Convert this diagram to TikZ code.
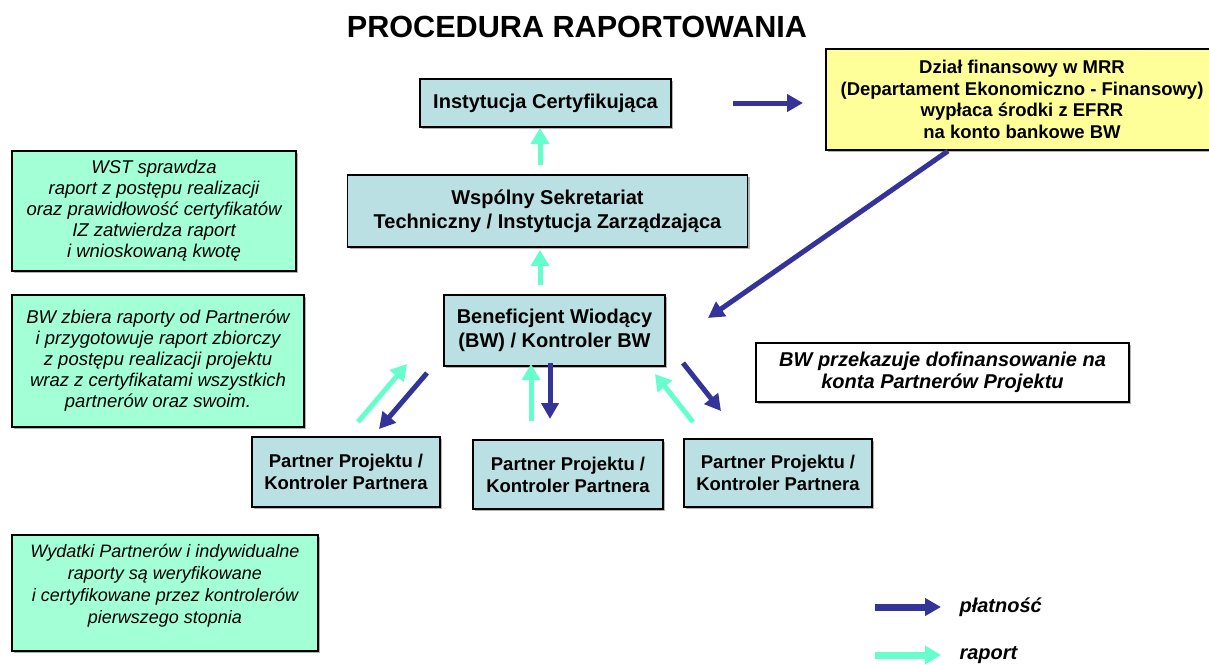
\documentclass[tikz,border=0pt]{standalone}
\usepackage{fontspec}
\setmainfont{Liberation Sans}
\usetikzlibrary{arrows.meta,shadows}
\definecolor{payblue}{HTML}{333399}
\definecolor{repgreen}{HTML}{66FFCC}
\definecolor{boxblue}{HTML}{BBE0E3}
\definecolor{notegreen}{HTML}{A3FFD6}
\definecolor{noteyellow}{HTML}{FFFF99}
\begin{document}
\begin{tikzpicture}[x=1pt,y=-1pt,
  shadowed/.style={drop shadow={shadow xshift=2pt,shadow yshift=-2pt,fill=black!50,opacity=0.6}},
  box/.style={shadowed,draw=black,line width=1.6pt,fill=boxblue,align=center,inner sep=0pt,
    font=\fontsize{20}{24}\selectfont\bfseries},
  pbox/.style={box,font=\fontsize{18.5}{22}\selectfont\bfseries},
  note/.style={shadowed,draw=black,line width=1.6pt,fill=notegreen,align=center,inner sep=0pt,
    font=\fontsize{18.5}{21}\selectfont\itshape},
  ybox/.style={shadowed,draw=black,line width=1.6pt,fill=noteyellow,align=center,inner sep=0pt,
    font=\fontsize{18.5}{21.7}\selectfont\bfseries},
  wbox/.style={shadowed,draw=black,line width=1.6pt,fill=white,align=center,inner sep=0pt,
    font=\fontsize{20}{22.5}\selectfont\bfseries\itshape},
  pay/.style={draw=payblue,line width=5pt,-{Triangle[length=16pt,width=17pt]}},
  rep/.style={draw=repgreen,line width=5pt,-{Triangle[length=16pt,width=18pt]}},
  legtxt/.style={anchor=west,font=\fontsize{20}{22}\selectfont\bfseries\itshape}
]
\path[use as bounding box] (0,0) rectangle (1209,664);

% title
\node[font=\fontsize{30.6}{34}\selectfont\bfseries] (title) at (577,27) {PROCEDURA RAPORTOWANIA};

% main boxes
\node[box,minimum width=251,minimum height=48] (ic) at (545.5,103) {Instytucja Certyfikująca};
\node[box,minimum width=400,minimum height=72] (wst) at (547.5,211) {Wspólny Sekretariat\\Techniczny / Instytucja Zarządzająca};
\node[box,minimum width=221,minimum height=71] (bw) at (554.5,330.5) {Beneficjent Wiodący\\(BW) / Kontroler BW};
\node[pbox,minimum width=188,minimum height=70] (p1) at (346,472) {Partner Projektu /\\Kontroler Partnera};
\node[pbox,minimum width=190,minimum height=69] (p2) at (568,474.5) {Partner Projektu /\\Kontroler Partnera};
\node[pbox,minimum width=188,minimum height=68] (p3) at (778,473) {Partner Projektu /\\Kontroler Partnera};
\node[ybox,minimum width=392,minimum height=101] (mrr) at (1022,99.5) {Dział finansowy w MRR\\(Departament Ekonomiczno - Finansowy)\\wypłaca środki z EFRR\\na konto bankowe BW};
\node[wbox,minimum width=373,minimum height=59] (bwp) at (942.5,372.5) {BW przekazuje dofinansowanie na\\konta Partnerów Projektu};

% notes
\node[note,minimum width=284,minimum height=120] (n1) at (154,211) {WST sprawdza\\raport z postępu realizacji\\oraz prawidłowość certyfikatów\\IZ zatwierdza raport\\i wnioskowaną kwotę};
\node[note,minimum width=292,minimum height=132] (n2) at (158,361) {BW zbiera raporty od Partnerów\\i przygotowuje raport zbiorczy\\z postępu realizacji projektu\\wraz z certyfikatami wszystkich\\partnerów oraz swoim.};
\node[note,minimum width=306,minimum height=116] (n3) at (165,593) {};
\node[align=center,inner sep=0pt,font=\fontsize{18}{22}\selectfont\itshape] (n3t) at (165,586) {Wydatki Partnerów i indywidualne\\raporty są weryfikowane\\i certyfikowane przez kontrolerów\\pierwszego stopnia};

% arrow end points
\coordinate (a1s) at (733,103);  \coordinate (a1e) at (803,103);
\coordinate (a2s) at (948,151);  \coordinate (a2e) at (708,318);
\coordinate (g0s) at (540,165);  \coordinate (g0e) at (540,128);
\coordinate (g4s) at (540,285);  \coordinate (g4e) at (540,250);
\coordinate (g1s) at (358,422);  \coordinate (g1e) at (407,364);
\coordinate (b1s) at (427,373);  \coordinate (b1e) at (379,429);
\coordinate (g2s) at (531,421);  \coordinate (g2e) at (531,364);
\coordinate (b2s) at (550,363);  \coordinate (b2e) at (550,419);
\coordinate (g3s) at (693,422);  \coordinate (g3e) at (655,374);
\coordinate (b3s) at (683,363);  \coordinate (b3e) at (721,411);

\draw[pay] (a1s) -- (a1e);
\draw[pay] (a2s) -- (a2e);
\draw[rep] (g0s) -- (g0e);
\draw[rep] (g4s) -- (g4e);
\draw[rep] (g1s) -- (g1e);
\draw[pay] (b1s) -- (b1e);
\draw[rep] (g2s) -- (g2e);
\draw[pay] (b2s) -- (b2e);
\draw[rep] (g3s) -- (g3e);
\draw[pay] (b3s) -- (b3e);

% legend
\coordinate (l1s) at (875,607); \coordinate (l1e) at (941,607);
\coordinate (l2s) at (875,655); \coordinate (l2e) at (941,655);
\draw[pay,line width=7pt] (l1s) -- (l1e);
\draw[rep,line width=7pt] (l2s) -- (l2e);
\node[legtxt] (lt1) at (956,607) {płatność};
\node[legtxt] (lt2) at (956,655) {raport};
\end{tikzpicture}
\end{document}
